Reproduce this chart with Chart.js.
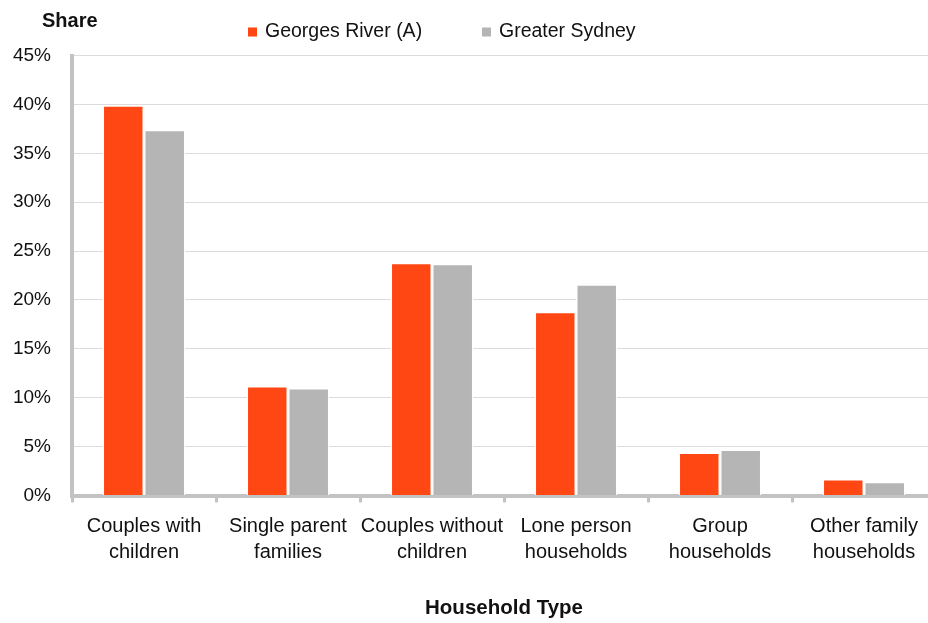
<!DOCTYPE html>
<html>
<head>
<meta charset="utf-8">
<title>Household Type</title>
<script src="https://cdn.jsdelivr.net/npm/chart.js@4/dist/chart.umd.min.js"></script>
<style>
  html, body { margin: 0; padding: 0; background: #ffffff; overflow: hidden; }
  #wrap { position: relative; width: 936px; height: 623px; }
</style>
</head>
<body>
<div id="wrap"><canvas id="chart" width="936" height="623"></canvas></div>
<script>
// Household composition, share of households (%)
const categories = [
  ['Couples with', 'children'],
  ['Single parent', 'families'],
  ['Couples without', 'children'],
  ['Lone person', 'households'],
  ['Group', 'households'],
  ['Other family', 'households']
];
const seriesNames = ['Georges River (A)', 'Greater Sydney'];
const georgesRiver = [39.9, 11.2, 23.8, 18.8, 4.4, 1.7];
const greaterSydney = [37.4, 11.0, 23.7, 21.6, 4.7, 1.4];
const yTicks = [0, 5, 10, 15, 20, 25, 30, 35, 40, 45];

const FONT = "'Liberation Sans', Arial, sans-serif";
const ORANGE = '#ff4713';
const GREY = '#b5b5b5';
const AXIS = '#c3c3c3';

// Legend and the "Share" axis caption, drawn above the plot
const headerPlugin = {
  id: 'header',
  afterDraw(chart, args, opts) {
    const ctx = chart.ctx;
    ctx.save();
    ctx.fillStyle = '#111111';
    ctx.textBaseline = 'middle';
    ctx.textAlign = 'left';
    ctx.font = 'bold 20px ' + FONT;
    ctx.fillText(opts.caption, opts.captionX, opts.captionY);
    ctx.font = '19.5px ' + FONT;
    chart.data.datasets.forEach((ds, i) => {
      const x = opts.itemX[i];
      ctx.fillStyle = ds.backgroundColor;
      ctx.fillRect(x, opts.legendY - 4.5, 9, 9);
      ctx.fillStyle = '#111111';
      ctx.fillText(ds.label, x + 17, opts.legendY);
    });
    ctx.restore();
  }
};

new Chart(document.getElementById('chart'), {
  type: 'bar',
  data: {
    labels: categories,
    datasets: [
      {
        label: seriesNames[0],
        data: georgesRiver,
        backgroundColor: ORANGE,
        borderColor: '#ffffff',
        borderWidth: 1.5,
        barPercentage: 1.0,
        categoryPercentage: 0.576
      },
      {
        label: seriesNames[1],
        data: greaterSydney,
        backgroundColor: GREY,
        borderColor: '#ffffff',
        borderWidth: 1.5,
        barPercentage: 1.0,
        categoryPercentage: 0.576
      }
    ]
  },
  options: {
    responsive: false,
    animation: false,
    layout: { padding: { top: 55.5, right: 0, bottom: 0, left: 0 } },
    plugins: {
      legend: { display: false },
      tooltip: { enabled: false },
      header: {
        caption: 'Share',
        captionX: 42,
        captionY: 21,
        legendY: 32,
        itemX: [248, 482]
      }
    },
    scales: {
      x: {
        offset: true,
        grid: {
          offset: true,
          drawOnChartArea: false,
          drawTicks: true,
          tickLength: 7,
          tickWidth: 3,
          tickColor: AXIS
        },
        border: { display: true, color: AXIS, width: 4 },
        ticks: {
          color: '#111111',
          padding: 11,
          maxRotation: 0,
          autoSkip: false,
          font: { family: FONT, size: 20, lineHeight: 1.3 }
        },
        title: {
          display: true,
          text: 'Household Type',
          color: '#111111',
          font: { family: FONT, size: 20.5, weight: 'bold', lineHeight: 1 },
          padding: { top: 0, bottom: 4 }
        },
        afterFit(scale) { scale.height = 127.5; }
      },
      y: {
        min: 0,
        max: 45,
        afterBuildTicks(scale) { scale.ticks = yTicks.map(v => ({ value: v })); },
        grid: {
          color: '#dcdcdc',
          lineWidth: 1,
          drawTicks: false
        },
        border: { display: true, color: AXIS, width: 4 },
        ticks: {
          color: '#111111',
          padding: 21,
          font: { family: FONT, size: 19 },
          callback: v => v + '%'
        },
        afterFit(scale) { scale.width = 72; }
      }
    }
  },
  plugins: [headerPlugin]
});
</script>
</body>
</html>
